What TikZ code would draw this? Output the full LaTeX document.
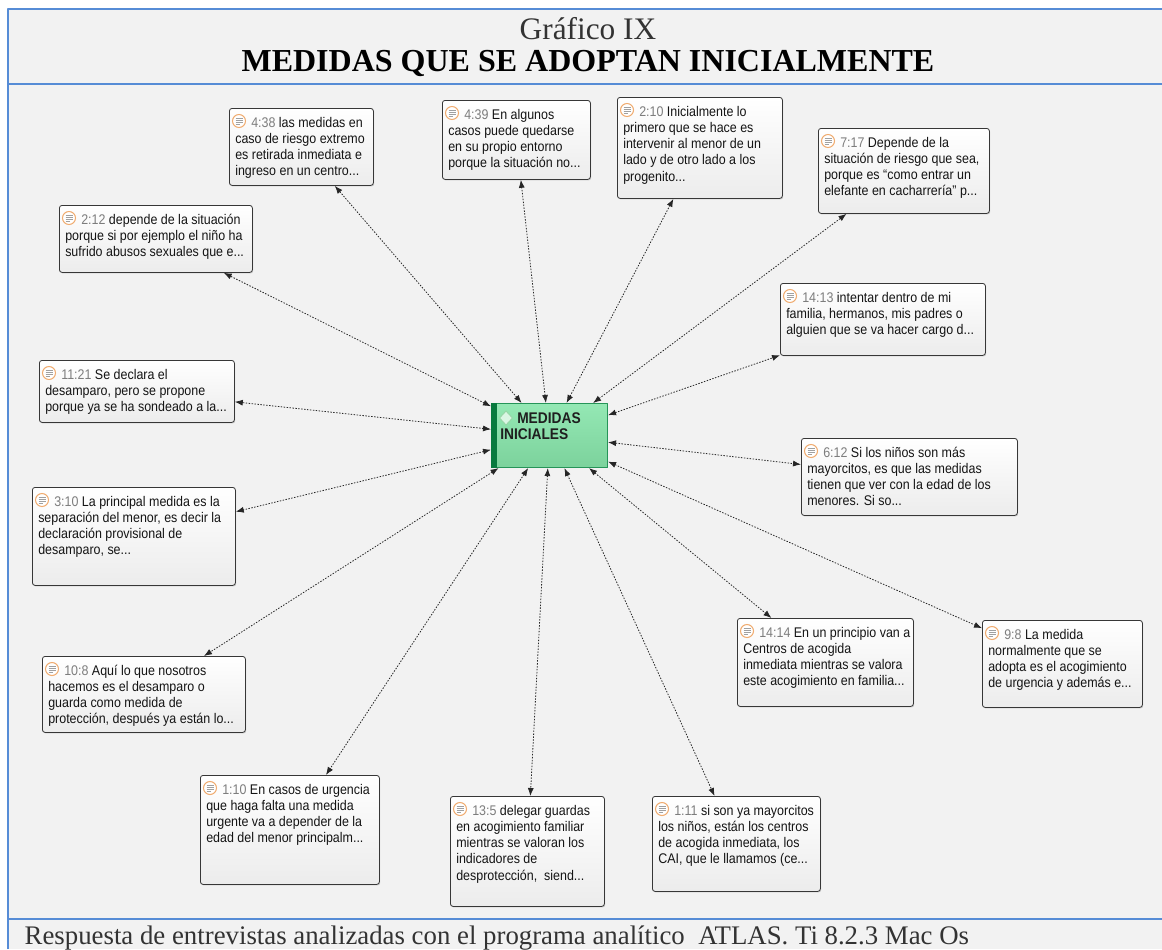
\documentclass[tikz,border=0pt]{standalone}
\usepackage{fontspec}
\setmainfont{Liberation Serif}
\newfontfamily\atlasfont[FakeStretch=0.89]{Liberation Sans}
\usetikzlibrary{arrows.meta,shadows}
\newdimen\px \px=0.75pt
\definecolor{framebl}{RGB}{86,140,214}
\definecolor{bggray}{RGB}{242,242,242}
\definecolor{titlegray}{RGB}{51,51,51}
\definecolor{idgray}{RGB}{125,125,125}
\definecolor{boxline}{RGB}{55,55,55}
\definecolor{boxbottom}{RGB}{236,236,236}
\definecolor{iconorange}{RGB}{240,172,112}
\definecolor{icongray}{RGB}{160,160,160}
\definecolor{greentop}{RGB}{148,232,180}
\definecolor{greenbot}{RGB}{124,210,156}
\definecolor{greenline}{RGB}{38,148,88}
\definecolor{greenbar}{RGB}{8,122,62}
\definecolor{diafill}{RGB}{218,246,228}
\definecolor{dialine}{RGB}{150,214,166}
\newcommand{\qid}[1]{\rule{0pt}{9.2pt}\hspace*{16\px}\textcolor{idgray}{#1}}
\tikzset{quoteicon/.pic={
    \draw[iconorange, fill=white, line width=0.8pt] (0,0) circle [radius=6.5];
    \draw[icongray, line width=0.45pt] (-3.5,-3)--(3.5,-3) (-3.5,-1)--(3.5,-1) (-3.5,1)--(3.5,1) (-3.5,3)--(0.5,3);
}}
\begin{document}
\begin{tikzpicture}[x=1\px, y=-1\px, line join=round,
    qbox/.style={anchor=north west, draw=boxline, line width=0.6pt, rounded corners=2pt, top color=white, bottom color=boxbottom, drop shadow={shadow xshift=0.6pt, shadow yshift=-0.8pt, opacity=0.35}},
    qtext/.style={anchor=north west, align=left, inner xsep=6\px, inner ysep=5pt, font=\atlasfont\fontsize{10.5pt}{12.15pt}\selectfont, text=black!92},
    link/.style={{Latex[length=6pt,width=4.5pt]}-{Latex[length=6pt,width=4.5pt]}, line width=0.6pt, dash pattern=on 1.1pt off 1.1pt, black!85}]
    \useasboundingbox (0,0) rectangle (1162,949);
    \fill[white] (0,0) rectangle (1162,949);
    \fill[bggray] (8,9) rectangle (1162,949);
    \draw[framebl, line width=1.5pt] (8,949) -- (8,9) -- (1162,9) (8,84) -- (1162,84) (8,919) -- (1162,919);
    \node[font=\fontsize{23.5pt}{26pt}\selectfont, text=titlegray] (grafico) at (588,29) {Gráfico IX};
    \node[font=\bfseries\fontsize{24pt}{28pt}\selectfont] (titulo) at (588,64) {MEDIDAS QUE SE ADOPTAN INICIALMENTE};
    \node[anchor=base west, font=\fontsize{20.1pt}{23pt}\selectfont, text=titlegray] (fuente) at (20,944) {Respuesta de entrevistas analizadas con el programa analítico\ \ ATLAS. Ti 8.2.3 Mac Os};
    %=== codigo central
    \node[anchor=north west, draw=greenline, line width=0.8pt, top color=greentop, bottom color=greenbot, minimum width=116\px, minimum height=64\px] (mi) at (491,403) {};
    \fill[greenbar] (mi.north west) rectangle ([shift={(6,0)}]mi.south west);
    \filldraw[fill=diafill, draw=dialine, line width=0.7pt] ([shift={(15,8)}]mi.north west) -- ++(6.5,7) -- ++(-6.5,7) -- ++(-6.5,-7) -- cycle;
    \node[anchor=north west, align=left, inner xsep=9\px, inner ysep=5.6pt, font=\atlasfont\bfseries\fontsize{11.6pt}{12pt}\selectfont, text=black!88] (mitext) at (mi.north west) {\rule{0pt}{9.4pt}\hspace*{17\px}MEDIDAS\\INICIALES};
    %=== citas arriba
    \node[qbox, minimum width=144\px, minimum height=77\px] (q438) at (229,108) {};
    \node[qtext] (q438t) at (q438.north west) {\qid{4:38} las medidas en\\caso de riesgo extremo\\es retirada inmediata e\\ingreso en un centro...};
    \node[qbox, minimum width=148\px, minimum height=79\px] (q439) at (442,100) {};
    \node[qtext] (q439t) at (q439.north west) {\qid{4:39} En algunos\\casos puede quedarse\\en su propio entorno\\porque la situación no...};
    \node[qbox, minimum width=165\px, minimum height=101\px] (q210) at (617,97) {};
    \node[qtext] (q210t) at (q210.north west) {\qid{2:10} Inicialmente lo\\primero que se hace es\\intervenir al menor de un\\lado y de otro lado a los\\progenito...};
    \node[qbox, minimum width=171\px, minimum height=85\px] (q717) at (818,128) {};
    \node[qtext] (q717t) at (q717.north west) {\qid{7:17} Depende de la\\situación de riesgo que sea,\\porque es “como entrar un\\elefante en cacharrería” p...};
    %=== citas izquierda
    \node[qbox, minimum width=193\px, minimum height=67\px] (q212) at (59,205) {};
    \node[qtext] (q212t) at (q212.north west) {\qid{2:12} depende de la situación\\porque si por ejemplo el niño ha\\sufrido abusos sexuales que e...};
    \node[qbox, minimum width=195\px, minimum height=62\px] (q1121) at (39,360) {};
    \node[qtext] (q1121t) at (q1121.north west) {\qid{11:21} Se declara el\\desamparo, pero se propone\\porque ya se ha sondeado a la...};
    \node[qbox, minimum width=203\px, minimum height=98\px] (q310) at (32,487) {};
    \node[qtext] (q310t) at (q310.north west) {\qid{3:10} La principal medida es la\\separación del menor, es decir la\\declaración provisional de\\desamparo, se...};
    \node[qbox, minimum width=203\px, minimum height=76\px] (q108) at (42,656) {};
    \node[qtext] (q108t) at (q108.north west) {\qid{10:8} Aquí lo que nosotros\\hacemos es el desamparo o\\guarda como medida de\\protección, después ya están lo...};
    %=== citas derecha
    \node[qbox, minimum width=205\px, minimum height=72\px] (q1413) at (780,283) {};
    \node[qtext] (q1413t) at (q1413.north west) {\qid{14:13} intentar dentro de mi\\familia, hermanos, mis padres o\\alguien que se va hacer cargo d...};
    \node[qbox, minimum width=216\px, minimum height=77\px] (q612) at (801,438) {};
    \node[qtext] (q612t) at (q612.north west) {\qid{6:12} Si los niños son más\\mayorcitos, es que las medidas\\tienen que ver con la edad de los\\menores. Si so...};
    \node[qbox, minimum width=176\px, minimum height=88\px] (q1414) at (737,618) {};
    \node[qtext] (q1414t) at (q1414.north west) {\qid{14:14} En un principio van a\\Centros de acogida\\inmediata mientras se valora\\este acogimiento en familia...};
    \node[qbox, minimum width=160\px, minimum height=87\px] (q98) at (982,620) {};
    \node[qtext] (q98t) at (q98.north west) {\qid{9:8} La medida\\normalmente que se\\adopta es el acogimiento\\de urgencia y además e...};
    %=== citas abajo
    \node[qbox, minimum width=179\px, minimum height=109\px] (q110) at (200,775) {};
    \node[qtext] (q110t) at (q110.north west) {\qid{1:10} En casos de urgencia\\que haga falta una medida\\urgente va a depender de la\\edad del menor principalm...};
    \node[qbox, minimum width=154\px, minimum height=110\px] (q135) at (450,796) {};
    \node[qtext] (q135t) at (q135.north west) {\qid{13:5} delegar guardas\\en acogimiento familiar\\mientras se valoran los\\indicadores de\\desprotección,\ \ siend...};
    \node[qbox, minimum width=168\px, minimum height=95\px] (q111) at (652,796) {};
    \node[qtext] (q111t) at (q111.north west) {\qid{1:11} si son ya mayorcitos\\los niños, están los centros\\de acogida inmediata, los\\CAI, que le llamamos (ce...};
    %=== enlaces
    \foreach \q in {q438,q439,q210,q717,q212,q1121,q310,q108,q1413,q612,q1414,q98,q110,q135,q111}{
        \draw[link] (mi) -- (\q);
        \pic at ([shift={(10,13)}]\q.north west) {quoteicon};
    }
\end{tikzpicture}
\end{document}
